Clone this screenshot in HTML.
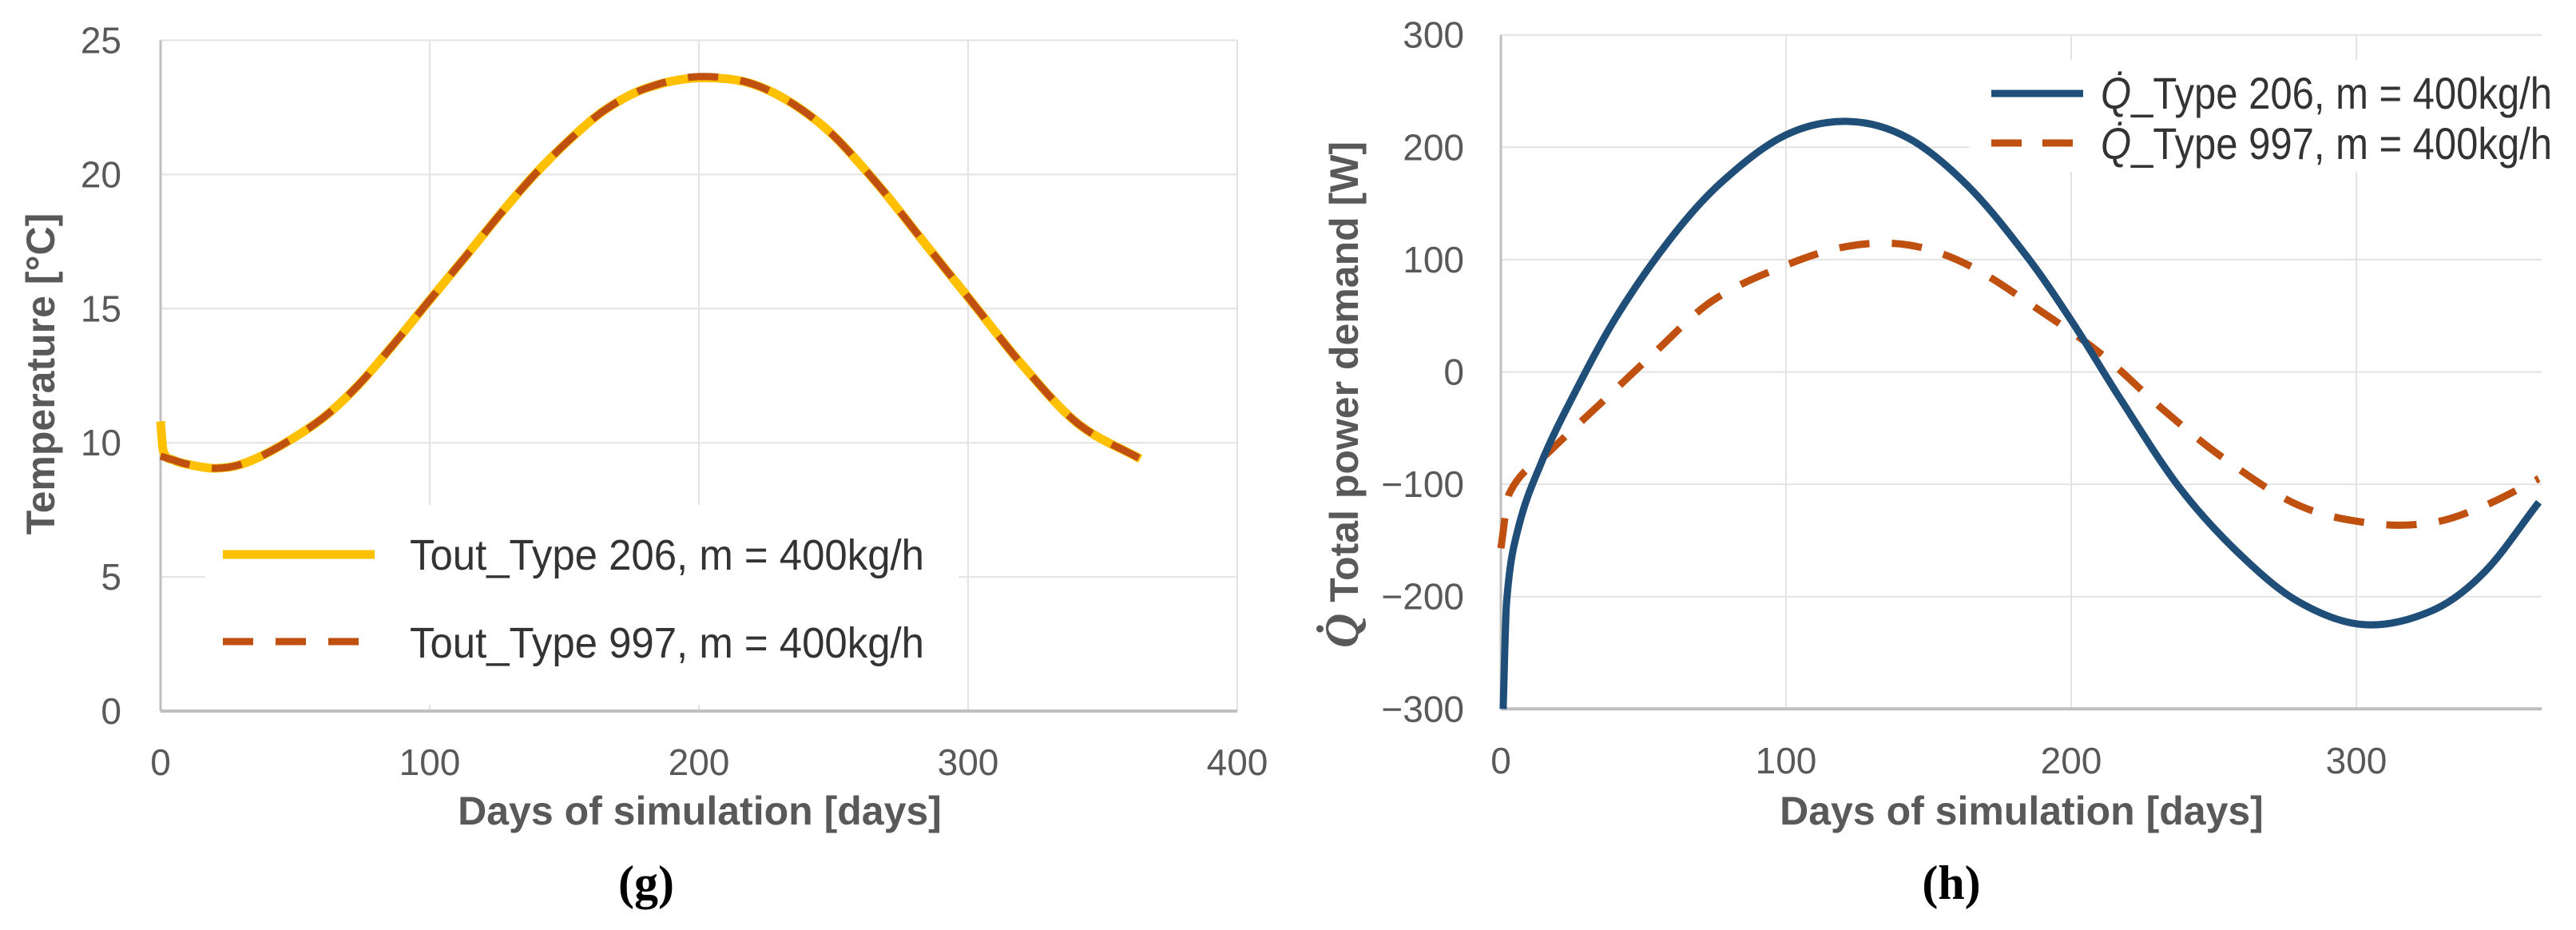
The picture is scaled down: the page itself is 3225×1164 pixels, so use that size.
<!DOCTYPE html>
<html><head><meta charset="utf-8"><style>
html,body{margin:0;padding:0;background:#fff;}
svg{display:block;}
text{font-family:"Liberation Sans",sans-serif;fill:#595959;}
.tick{font-size:46px;}
.title{font-size:50px;font-weight:bold;font-family:"Liberation Sans",sans-serif;}
.leg{font-size:54px;fill:#333;}
.legh{font-size:56px;fill:#333;}
.cap{font-family:"Liberation Serif",serif;font-size:60px;font-weight:bold;fill:#000;}
</style></head><body>
<svg id="c" width="3225" height="1164" viewBox="0 0 3225 1164"></svg>
<script>
// ---- Chart g data ----
const gTicksX = [0,100,200,300,400];
const gTicksY = [0,5,10,15,20,25];
const gDays206 = [0,1,5,10,20,30,43,60,73,86,99,113,126,139,152,165,180,200,222,245,265,285,301,321,341,364];
const gTemp206 = [10.8,9.7,9.35,9.2,9.05,9.2,9.8,10.9,12.1,13.6,15.2,16.9,18.5,20.0,21.3,22.4,23.2,23.6,23.3,21.9,19.8,17.3,15.3,12.8,10.7,9.4];
const gDays997 = [0,5,10,20,30,43,60,73,86,99,113,126,139,152,165,180,200,222,245,265,285,301,321,341,364];
const gTemp997 = [9.5,9.35,9.2,9.05,9.2,9.8,10.9,12.1,13.6,15.2,16.9,18.5,20.0,21.3,22.4,23.2,23.65,23.3,21.9,19.8,17.3,15.3,12.8,10.7,9.4];
// ---- Chart h data ----
const hTicksX = [0,100,200,300];
const hTicksY = [-300,-200,-100,0,100,200,300];
const hDays206 = [0.8,2,6,14,24,40,59,77,100,122,143,164,185,201,217,238,259,280,303,327,345,364];
const hQ206 = [-300,-205,-140,-82,-28,47,117,168,211,223,208,165,101,42,-23,-103,-162,-205,-225,-212,-178,-116];
const hDays997 = [0,3,17,35,53,74,100,122,143,164,190,211,232,253,280,306,327,345,364];
const hQ997 = [-157,-108,-71,-28,15,63,95,112,113,95,53,15,-33,-76,-119,-135,-134,-119,-95];

const NS="http://www.w3.org/2000/svg";
const svg=document.getElementById('c');
function mk(tag,attrs,parent){const e=document.createElementNS(NS,tag);for(const k in attrs)e.setAttribute(k,attrs[k]);(parent||svg).appendChild(e);return e;}
function smooth(pts){
  const n=pts.length, m=[];
  for(let i=0;i<n;i++){const a=pts[Math.max(0,i-1)],b=pts[Math.min(n-1,i+1)];m.push((b[1]-a[1])/(b[0]-a[0]));}
  let d=`M${pts[0][0]},${pts[0][1]}`;
  for(let i=0;i<n-1;i++){const p1=pts[i],p2=pts[i+1],dx=(p2[0]-p1[0])/3;
    d+=`C${p1[0]+dx},${p1[1]+m[i]*dx} ${p2[0]-dx},${p2[1]-m[i+1]*dx} ${p2[0]},${p2[1]}`;}
  return d;}

// ===== Chart g =====
const gx=v=>201+v*3.37, gy=v=>890-v*33.58;
gTicksY.forEach(t=>{if(t>0){const l=mk('line',{x1:gx(0),x2:gx(400),y1:gy(t),y2:gy(t),stroke:'#e3e3e3','stroke-width':2});}
 const tx=mk('text',{x:152,y:gy(t)+16,'text-anchor':'end',class:'tick'});tx.textContent=t;});
gTicksX.forEach(t=>{if(t>0){const l=mk('line',{x1:gx(t),x2:gx(t),y1:gy(25),y2:gy(0),stroke:'#e3e3e3','stroke-width':2});}
 const tx=mk('text',{x:gx(t),y:970,'text-anchor':'middle',class:'tick'});tx.textContent=t;});
let a=mk('line',{x1:gx(0),x2:gx(400),y1:gy(0),y2:gy(0),stroke:'#bfbfbf','stroke-width':4});
a=mk('line',{x1:gx(0),x2:gx(0),y1:gy(25),y2:gy(0),stroke:'#bfbfbf','stroke-width':3});
let p=mk('path',{d:smooth(gDays206.map((d,i)=>[gx(d),gy(gTemp206[i])])),fill:'none',stroke:'#FFC000','stroke-width':11,'stroke-linejoin':'round'});

p=mk('path',{d:smooth(gDays997.map((d,i)=>[gx(d),gy(gTemp997[i])])),fill:'none',stroke:'#C0500F','stroke-width':9,'stroke-dasharray':'38 28'});

let lg=mk('g',{});
mk('rect',{x:257,y:632,width:943,height:250,fill:'#fff'},lg);
mk('line',{x1:279,x2:469,y1:694,y2:694,stroke:'#FFC000','stroke-width':11},lg);
mk('line',{x1:279,x2:469,y1:803,y2:803,stroke:'#C0500F','stroke-width':9,'stroke-dasharray':'38 28'},lg);
let t=mk('text',{x:513,y:713,class:'leg',textLength:644,lengthAdjust:'spacingAndGlyphs'},lg);t.textContent='Tout_Type 206, m = 400kg/h';
t=mk('text',{x:513,y:823,class:'leg',textLength:644,lengthAdjust:'spacingAndGlyphs'},lg);t.textContent='Tout_Type 997, m = 400kg/h';
t=mk('text',{x:876,y:1032,'text-anchor':'middle',class:'title'});t.textContent='Days of simulation [days]';
t=mk('text',{x:0,y:0,'text-anchor':'middle',class:'title',transform:'translate(68,468) rotate(-90)'});t.textContent='Temperature [°C]';
t=mk('text',{x:809,y:1125,'text-anchor':'middle',class:'cap'});t.textContent='(g)';

// ===== Chart h =====
const hx=v=>1879+v*3.57, hy=v=>465.5-v*1.406;
const hRight=hx(365);
hTicksY.forEach(v=>{if(v>-300){const l=mk('line',{x1:hx(0),x2:hRight,y1:hy(v),y2:hy(v),stroke:'#e3e3e3','stroke-width':2});}
 const tx=mk('text',{x:1833,y:hy(v)+16,'text-anchor':'end',class:'tick'});tx.textContent=(v<0?'\u2212':'')+Math.abs(v);});
hTicksX.forEach(v=>{if(v>0){const l=mk('line',{x1:hx(v),x2:hx(v),y1:hy(300),y2:hy(-300),stroke:'#e3e3e3','stroke-width':2});}
 const tx=mk('text',{x:hx(v),y:968,'text-anchor':'middle',class:'tick'});tx.textContent=v;});
a=mk('line',{x1:hx(0),x2:hRight,y1:hy(-300),y2:hy(-300),stroke:'#bfbfbf','stroke-width':4});
a=mk('line',{x1:hx(0),x2:hx(0),y1:hy(300),y2:hy(-300),stroke:'#bfbfbf','stroke-width':3});
p=mk('path',{d:smooth(hDays997.map((d,i)=>[hx(d),hy(hQ997[i])])),fill:'none',stroke:'#C0500F','stroke-width':9,'stroke-dasharray':'38 28'});

p=mk('path',{d:smooth(hDays206.map((d,i)=>[hx(d),hy(hQ206[i])])),fill:'none',stroke:'#1F4E79','stroke-width':9});

lg=mk('g',{});
mk('rect',{x:2465,y:75,width:760,height:140,fill:'#fff'},lg);
mk('line',{x1:2493,x2:2608,y1:117,y2:117,stroke:'#1F4E79','stroke-width':9},lg);
mk('line',{x1:2493,x2:2608,y1:179,y2:179,stroke:'#C0500F','stroke-width':9,'stroke-dasharray':'38 26'},lg);
t=mk('text',{x:2630,y:136,class:'legh',textLength:565,lengthAdjust:'spacingAndGlyphs'},lg);t.innerHTML='<tspan font-style="italic">Q\u0307</tspan>_Type 206, m = 400kg/h';
t=mk('text',{x:2630,y:199,class:'legh',textLength:565,lengthAdjust:'spacingAndGlyphs'},lg);t.innerHTML='<tspan font-style="italic">Q\u0307</tspan>_Type 997, m = 400kg/h';
t=mk('text',{x:2531,y:1032,'text-anchor':'middle',class:'title'});t.textContent='Days of simulation [days]';
t=mk('text',{x:0,y:0,'text-anchor':'middle',class:'title',transform:'translate(1700,494) rotate(-90)'});t.innerHTML='<tspan font-family="Liberation Serif" font-style="italic" font-size="60">Q\u0307</tspan>  Total power demand [W]';
t=mk('text',{x:2443,y:1125,'text-anchor':'middle',class:'cap'});t.textContent='(h)';
</script>
</body></html>
